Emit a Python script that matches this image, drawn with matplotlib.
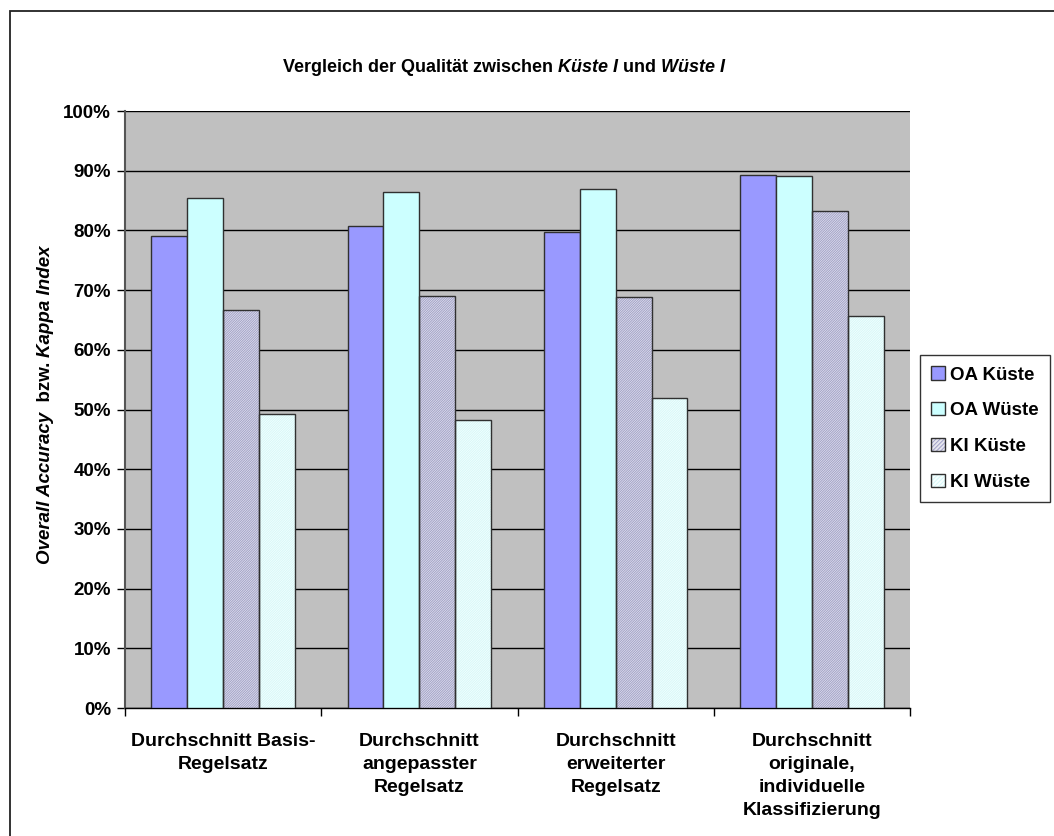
import numpy as np
import matplotlib.pyplot as plt
from matplotlib.patches import Rectangle, Patch
from matplotlib.ticker import MultipleLocator, PercentFormatter

plt.rcParams['font.family'] = ['Liberation Sans', 'DejaVu Sans']
plt.rcParams['font.weight'] = 'bold'
plt.rcParams['hatch.linewidth'] = 0.7

categories = ['Durchschnitt Basis-\nRegelsatz',
              'Durchschnitt\nangepasster\nRegelsatz',
              'Durchschnitt\nerweiterter\nRegelsatz',
              'Durchschnitt\noriginale,\nindividuelle\nKlassifizierung']
series_names = ['OA Küste', 'OA Wüste', 'KI Küste', 'KI Wüste']
oa_kueste = [79.1, 80.7, 79.7, 89.2]
oa_wueste = [85.5, 86.5, 86.9, 89.1]
ki_kueste = [66.7, 69.0, 68.9, 83.2]
ki_wueste = [49.3, 48.3, 51.9, 65.6]

# face colour, hatch, hatch colour
styles = [('#9999ff', '', None),
          ('#ccffff', '', None),
          ('#e6e6ee', '/' * 14, '#a0a0c8'),
          ('#f7ffff', '/' * 14, '#d6f8f8')]

fig = plt.figure(figsize=(10.54, 8.36), dpi=100)
ax = fig.add_axes([0.1186, 0.1531, 0.8634 - 0.1186, 0.8672 - 0.1531])
ax.set_facecolor('#c0c0c0')

x = np.arange(len(categories))
w = 0.183
handles = []
for i, (vals, (fc, hatch, hc)) in enumerate(zip([oa_kueste, oa_wueste, ki_kueste, ki_wueste], styles)):
    pos = x + (i - 1.5) * w
    if hatch:
        ax.bar(pos, vals, w, color=fc, hatch=hatch, edgecolor=hc, linewidth=0, zorder=3)
        ax.bar(pos, vals, w, fill=False, edgecolor='#303030', linewidth=1.0, zorder=4)
        h = (Patch(facecolor=fc, hatch='/' * 8, edgecolor=hc, linewidth=0),
             Patch(fill=False, edgecolor='#303030', linewidth=1.0))
    else:
        ax.bar(pos, vals, w, color=fc, edgecolor='#303030', linewidth=1.0, zorder=4)
        h = Patch(facecolor=fc, edgecolor='#303030', linewidth=1.0)
    handles.append(h)

ax.set_xlim(-0.5, len(categories) - 0.5)
ax.set_ylim(0, 100)
ax.yaxis.set_major_locator(MultipleLocator(10))
ax.yaxis.set_major_formatter(PercentFormatter(decimals=0))
ax.grid(axis='y', color='black', linewidth=1.0, zorder=1)
ax.set_axisbelow(True)

ax.set_xticks(np.arange(len(categories) + 1) - 0.5)
ax.set_xticklabels([])
ax.set_xticks(x, minor=True)
ax.set_xticklabels(categories, minor=True, fontsize=14, fontweight='bold',
                   linespacing=1.45, va='top')
ax.tick_params(axis='x', which='minor', length=0, pad=18)
ax.tick_params(axis='x', which='major', length=6, width=1, color='black', direction='out')
ax.tick_params(axis='y', length=6, width=1, labelsize=13.5, pad=4)

for s in ['top', 'right']:
    ax.spines[s].set_visible(False)
ax.spines['left'].set_color('#555555')
ax.spines['left'].set_linewidth(1.5)
ax.spines['bottom'].set_color('black')
ax.spines['bottom'].set_linewidth(1.0)

# title with italic parts
parts = [('Vergleich der Qualität zwischen ', 'normal'), ('Küste I', 'italic'),
         (' und ', 'normal'), ('Wüste I', 'italic')]
t = fig.text(0.2685, 0.914, parts[0][0], fontsize=13, fontweight='bold',
             ha='left', va='baseline')
for txt, st in parts[1:]:
    t = ax.annotate(txt, xycoords=t, xy=(1, 0), va='bottom', ha='left',
                    fontsize=13, fontweight='bold', style=st,
                    annotation_clip=False)

# y label with italic parts
yparts = [('Overall Accuracy', 'italic'), ('  bzw. ', 'normal'), ('Kappa Index', 'italic')]
t = fig.text(0.043, 0.325, yparts[0][0], fontsize=13.5, fontweight='bold', style='italic',
             rotation=90, ha='center', va='bottom')
for txt, st in yparts[1:]:
    t = ax.annotate(txt, xycoords=t, xy=(0.5, 1), va='bottom', ha='center',
                    rotation=90, fontsize=13.5, fontweight='bold', style=st,
                    annotation_clip=False)

leg = fig.legend(handles, series_names, loc='center left',
                 bbox_to_anchor=(0.873, 0.487), fontsize=13.5,
                 frameon=True, fancybox=False, edgecolor='black',
                 handlelength=0.7, handleheight=0.7, handletextpad=0.3,
                 labelspacing=1.0, borderpad=0.6, borderaxespad=0)
leg.get_frame().set_linewidth(1.0)
for txt in leg.get_texts():
    txt.set_fontweight('bold')

# outer chart frame
fig.patches.append(Rectangle((10 / 1054, -0.1), 1.2, 1 - 11 / 836 + 0.1,
                             transform=fig.transFigure, fill=False,
                             edgecolor='#222222', linewidth=1.3))

fig.savefig('out.png', dpi=100)
